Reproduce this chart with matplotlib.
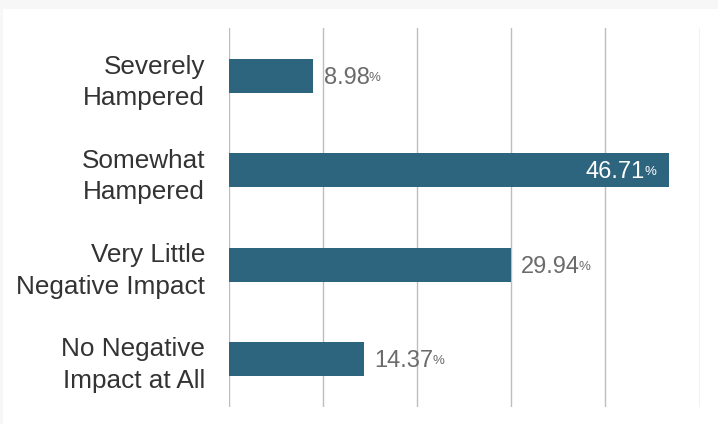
import matplotlib
matplotlib.use("Agg")
import matplotlib.pyplot as plt
from matplotlib.patches import Rectangle

categories = ["Severely\nHampered", "Somewhat\nHampered",
              "Very Little\nNegative Impact", "No Negative\nImpact at All"]
values = [8.98, 46.71, 29.94, 14.37]
x_ticks = [0, 10, 20, 30, 40, 50]

BAR_COLOR = "#2d647e"
LABEL_COLOR = "#333333"
VALUE_COLOR = "#6b6b6b"
FONT = "Liberation Sans"

fig = plt.figure(figsize=(7.18, 4.24), dpi=100)
fig.patch.set_facecolor("#f7f7f7")
fig.patches.append(Rectangle((3 / 718, 0), 1, 1 - 9 / 424, transform=fig.transFigure,
                             facecolor="white", edgecolor="none", zorder=-10))

ax = fig.add_axes([228.5 / 718, 17 / 424, 471 / 718, 379 / 424])
ax.set_zorder(1)
ax.set_facecolor("none")

ypos = list(range(len(categories)))
ax.barh(ypos, values, height=0.36, color=BAR_COLOR, zorder=3)

ax.set_xlim(x_ticks[0], x_ticks[-1])
ax.set_ylim(len(categories) - 0.49, -0.51)
ax.set_xticks(x_ticks)
ax.set_xticklabels([])
ax.tick_params(axis="x", length=0)
ax.grid(axis="x", color="#bdbdbd", linewidth=1, zorder=1)
ax.set_yticks(ypos)
ax.set_yticklabels(categories, fontsize=18.8, color=LABEL_COLOR, family=FONT,
                   linespacing=1.4)
ax.tick_params(axis="y", length=0, pad=17)
for s in ax.spines.values():
    s.set_visible(False)

fig.canvas.draw()
max_val = max(values)
for y, v in zip(ypos, values):
    base = y + 0.085
    num = f"{v:.2f}"
    if v == max_val:
        pct = ax.annotate("%", xy=(v, base), xytext=(-9, 2.2), textcoords="offset points",
                          ha="right", va="baseline", fontsize=9.5, color="white",
                          family=FONT, zorder=5)
        ax.annotate(num, xy=(0, base), xycoords=(pct, "data"), xytext=(0.5, 0),
                    textcoords="offset points", ha="right", va="baseline",
                    fontsize=17, color="white", family=FONT, zorder=5)
    else:
        txt = ax.annotate(num, xy=(v, base), xytext=(7.5, 0), textcoords="offset points",
                          ha="left", va="baseline", fontsize=17, color=VALUE_COLOR,
                          family=FONT, zorder=5)
        ax.annotate("%", xy=(1, base), xycoords=(txt, "data"), xytext=(-0.8, 2.2),
                    textcoords="offset points", ha="left", va="baseline",
                    fontsize=9.5, color=VALUE_COLOR, family=FONT, zorder=5)

fig.savefig("out.png", dpi=100)
